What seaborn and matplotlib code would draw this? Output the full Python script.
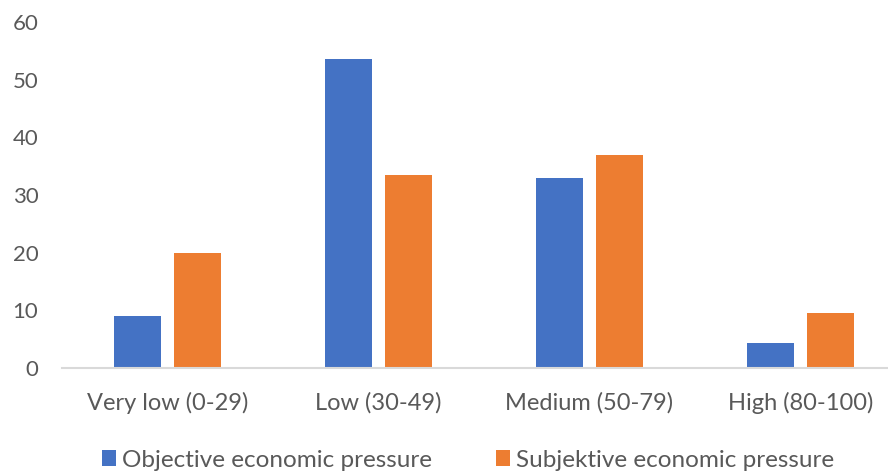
import matplotlib
matplotlib.use("Agg")
import matplotlib.pyplot as plt
import seaborn as sns
import pandas as pd
from matplotlib.patches import Patch

categories = ["Very low (0-29)", "Low (30-49)", "Medium (50-79)", "High (80-100)"]
series_names = ["Objective economic pressure", "Subjektive economic pressure"]
objective = [9.0, 53.5, 32.9, 4.4]
subjective = [20.0, 33.4, 37.0, 9.5]
y_ticks = [0, 10, 20, 30, 40, 50, 60]

colors = ["#4472C4", "#ED7D31"]
text_color = "#595959"

df = pd.DataFrame({
    "category": categories * 2,
    "series": [series_names[0]] * 4 + [series_names[1]] * 4,
    "value": objective + subjective,
})

sns.set_theme(style="white")
plt.rcParams["font.family"] = ["Lato", "DejaVu Sans"]

W, H = 888, 473
fig = plt.figure(figsize=(W / 100, H / 100), dpi=100)
# plot area runs past the right edge of the canvas
ax = fig.add_axes([62 / W, 105 / H, 844 / W, 346 / H])

sns.barplot(data=df, x="category", y="value", hue="series",
            palette=colors, width=0.569, gap=0.217, ax=ax,
            saturation=1, legend=False, linewidth=0)

ax.set_ylim(0, 60)
ax.set_xlim(-0.5, 3.5)
ax.set_yticks(y_ticks)
ax.set_yticklabels([str(t) for t in y_ticks])
ax.set_xlabel("")
ax.set_ylabel("")

for side in ["top", "right", "left"]:
    ax.spines[side].set_visible(False)
ax.spines["bottom"].set_color("#D9D9D9")
ax.spines["bottom"].set_linewidth(1.5)

ax.tick_params(axis="both", length=0, colors=text_color)
ax.tick_params(axis="y", pad=17, labelsize=16)
ax.tick_params(axis="x", pad=17, labelsize=17)

handles = [Patch(facecolor=c, edgecolor="none") for c in colors]
fig.legend(handles, series_names, loc="center", ncol=2,
           bbox_to_anchor=(468 / W, 1 - 460 / H), frameon=False,
           fontsize=17.5, labelcolor=text_color, handlelength=0.6,
           handleheight=0.6, handletextpad=0.25, columnspacing=2.6)

fig.savefig("out.png", dpi=100, facecolor="white")
